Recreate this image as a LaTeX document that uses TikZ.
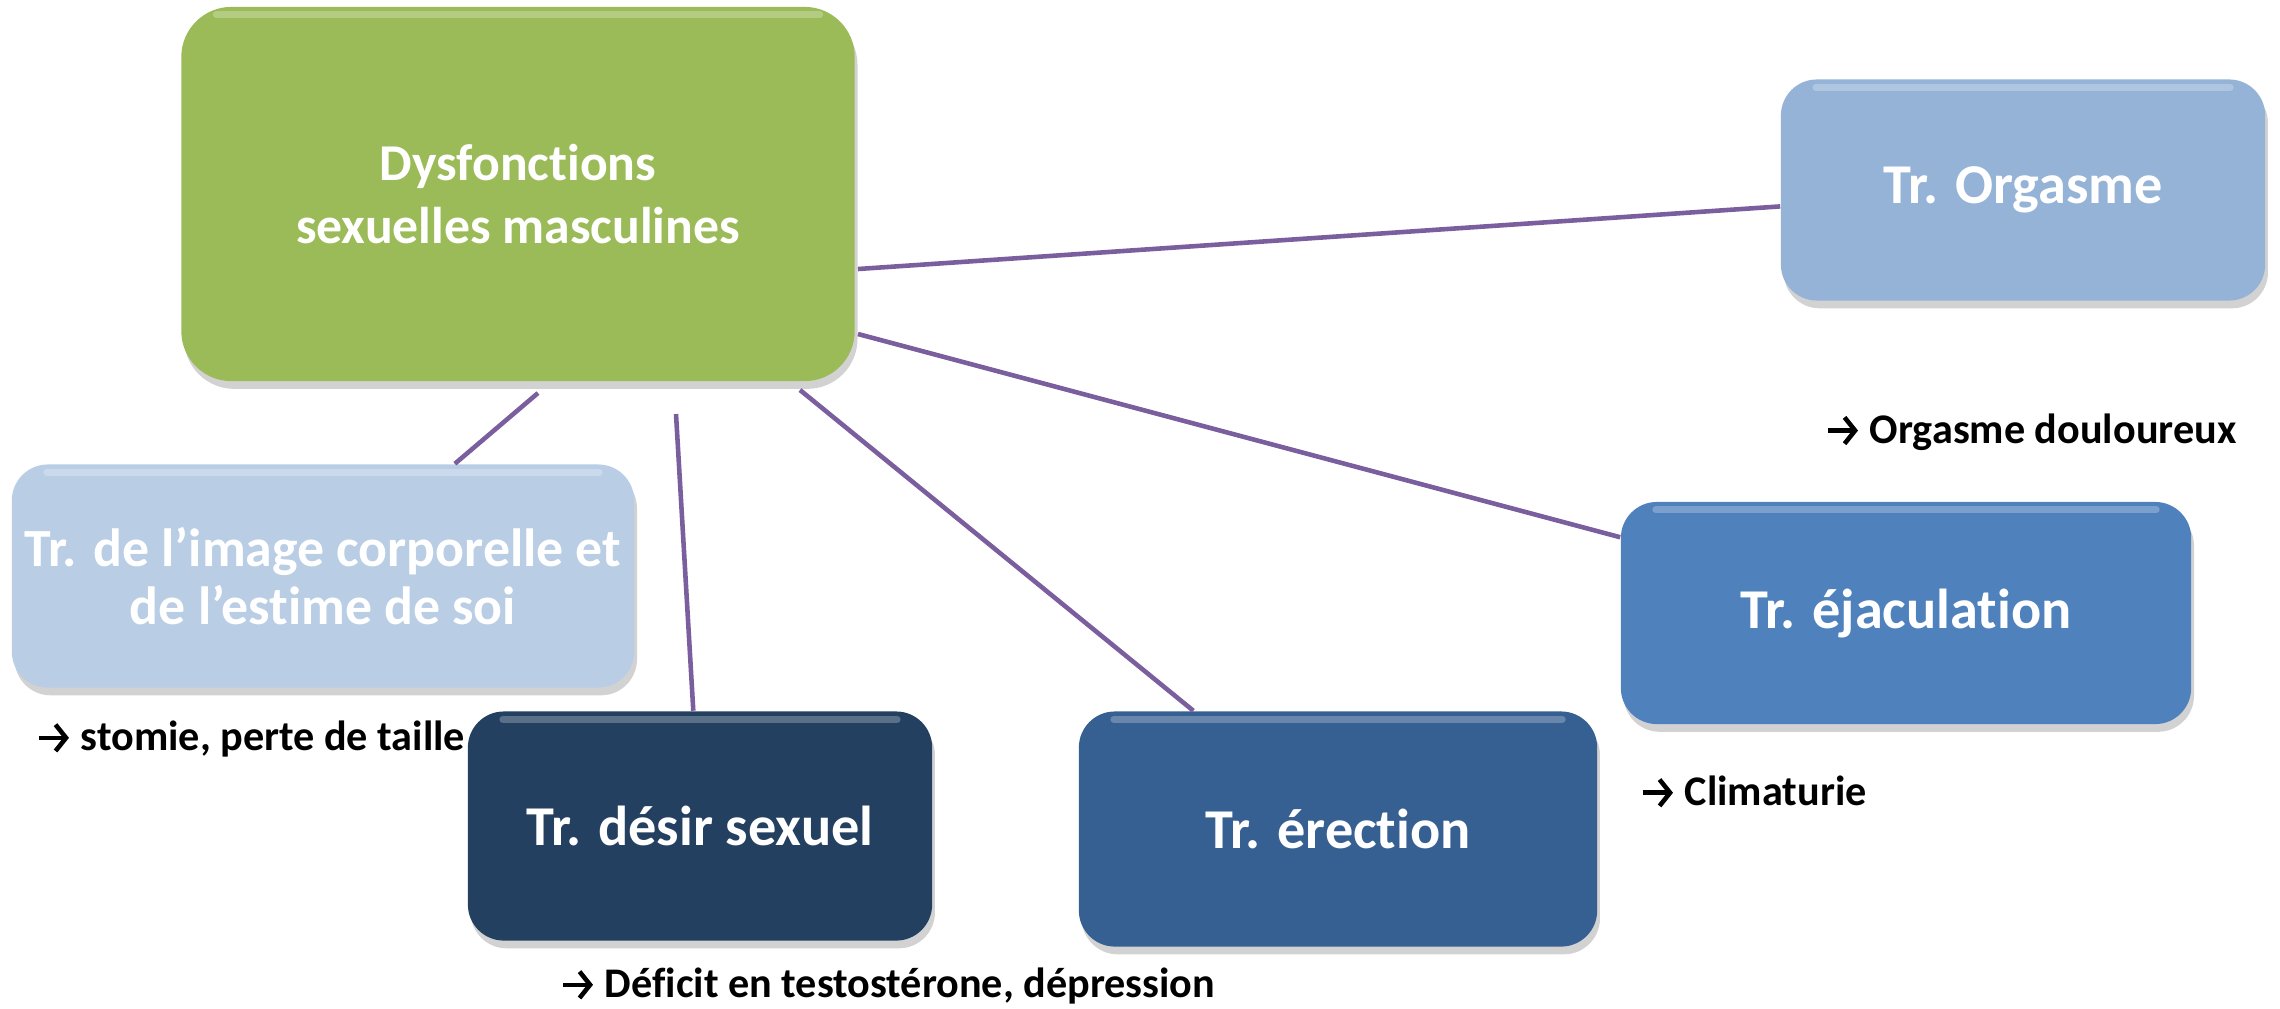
\documentclass[tikz,border=0pt]{standalone}
\usepackage{fontspec}
\setmainfont{Carlito}[Ligatures=NoCommon]
\usetikzlibrary{shadows,arrows.meta}
\definecolor{cgreen}{HTML}{9BBB59}
\definecolor{corg}{HTML}{95B3D7}
\definecolor{cejac}{HTML}{4F81BD}
\definecolor{cerec}{HTML}{376092}
\definecolor{cdesir}{HTML}{244061}
\definecolor{cimage}{HTML}{B9CDE5}
\definecolor{cline}{HTML}{7A5E9E}
\tikzset{
  box/.style={draw=none, rounded corners=0.36cm, text=white, align=center, inner sep=0pt,
    font=\bfseries\fontsize{16}{19}\selectfont,
    drop shadow={opacity=0.35, shadow xshift=0.8pt, shadow yshift=-2.2pt},
    path picture={\draw[white, opacity=0.25, line width=2pt, line cap=round]
      ([xshift=0.35cm, yshift=-0.08cm]path picture bounding box.north west) --
      ([xshift=-0.35cm, yshift=-0.08cm]path picture bounding box.north east);}},
  conn/.style={draw=cline, line width=1.3pt},
  note/.style={anchor=west, inner sep=0pt, font=\bfseries\fontsize{12}{14}\selectfont, text=black}
}
\newcommand{\arr}{\tikz[baseline=-0.62ex, x=1cm, y=1cm]\draw[line width=1.3pt,
  -{Straight Barb[length=3pt, width=7.5pt, line width=1.3pt]}] (0,0) -- (0.3,0);}
\begin{document}
\begin{tikzpicture}[x=0.01cm, y=-0.01cm]
\useasboundingbox[fill=white] (0,0) rectangle (2280,1008);
% annotations (drawn first; boxes overlap them)
\node[note] (n1) at (1825,432) {\arr\ Orgasme douloureux};
\node[note] (n2) at (1640,792) {\arr\ Climaturie};
\node[note] (n3) at (560,986) {\arr\ Déficit en testostérone, dépression};
\node[note] (n4) at (36,739) {\arr\ stomie, perte de taille};
% boxes
\node[box, fill=cgreen, rounded corners=0.5cm, minimum width=6.73cm, minimum height=3.74cm,
      font=\bfseries\fontsize{14.7}{17.8}\selectfont] (green) at (518,194)
      {Dysfonctions\\sexuelles masculines};
\node[box, fill=corg, minimum width=4.84cm, minimum height=2.21cm] (org) at (2023,190) {Tr. Orgasme};
\node[box, fill=cejac, minimum width=5.70cm, minimum height=2.22cm] (ejac) at (1906,613) {Tr. éjaculation};
\node[box, fill=cerec, minimum width=5.18cm, minimum height=2.35cm] (erec) at (1338,829) {Tr. érection};
\node[box, fill=cdesir, minimum width=4.64cm, minimum height=2.29cm] (desir) at (700,826) {Tr. désir sexuel};
\node[box, fill=cimage, minimum width=6.22cm, minimum height=2.23cm,
      font=\bfseries\fontsize{15.3}{16.5}\selectfont] (image) at (323,576)
      {Tr. de l’image corporelle et\\de l’estime de soi};
% connector start points
\coordinate (s1) at (858,269);
\coordinate (s2) at (858,334);
\coordinate (s3) at (800,390);
\coordinate (s4) at (676,414);
\coordinate (s5) at (538,393);
\draw[conn] (s1) -- (org);
\draw[conn] (s2) -- (ejac);
\draw[conn] (s3) -- (erec);
\draw[conn] (s4) -- (desir);
\draw[conn] (s5) -- (image);
\end{tikzpicture}
\end{document}
